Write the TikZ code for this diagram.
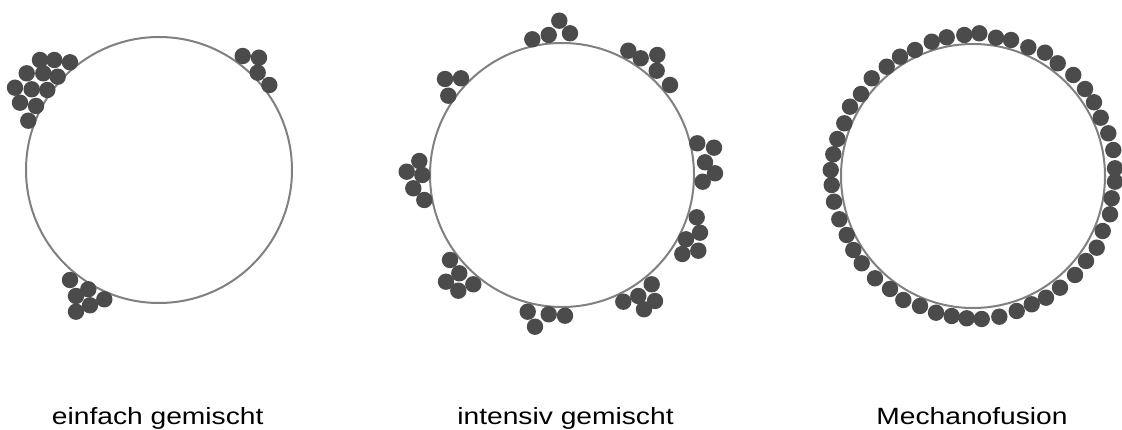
\documentclass[tikz,border=0pt]{standalone}
\usepackage{fontspec}
\newfontfamily\labfont{Liberation Sans}[FakeStretch=1.2]
\definecolor{ringgray}{HTML}{808080}
\definecolor{partgray}{HTML}{4B4B4B}
\begin{document}
\begin{tikzpicture}[x=1pt,y=-1pt,
  ring/.style={draw=ringgray,line width=2pt},
  part/.style={fill=partgray},
  lab/.style={anchor=base,inner sep=0pt,font=\labfont\fontsize{23.5}{26}\selectfont}]
\useasboundingbox (0,0) rectangle (1122,430);
% --- einfach gemischt
\draw[ring] (159,170) circle (133);
\foreach \x/\y in {40/60,54.3/60,70/62.3,26.7/73.3,43.3/73.3,57.7/76.7,15/87.7,31.7/89.3,47.3/90,20/102.7,36/106,28.3/120.7,
  242.7/56,259/57.7,257.7/72.7,269.3/85,
  70/280,88.3/289.3,76/296,104.3/299.3,90/305.3,76/311.7}
  \fill[part] (\x,\y) circle (8.2);
% --- intensiv gemischt
\draw[ring] (562,175) circle (132);
\foreach \x/\y in {559.3/20.7,532.3/39.3,548.7/35,570/33.3,
  628.3/50.7,640.7/58.3,657.3/55,656.7/70.7,670/85,
  445/79,461/78.3,448.3/95.7,
  697.3/143.3,714/147.7,705/162.3,715/173.3,702.7/181.7,
  419.3/161,406.7/171.7,422.3/175,413.3/188.3,424.3/200,
  696.7/217.3,700/232.7,686/239.3,698.3/250.7,682.3/254,
  450/260,459.3/273.3,446/281.7,473.3/284.3,458.3/290.7,
  527.7/311.7,548.7/314.3,565/315.7,535/326.7,
  651.7/284.3,638.3/296,623.3/301.7,655/301,644/309.3}
  \fill[part] (\x,\y) circle (8.2);
% --- Mechanofusion
\draw[ring] (973,176) circle (132);
\foreach \x/\y in {964.3/35,979.3/33.3,996/37.7,1011/40,1028.3/47.3,1045/52.7,1057.7/63.3,1073.3/75,
  1085/89,1094/102.3,1100.7/117.7,1108.3/133.3,1113.3/150,1115/168.3,1115/181.7,1111.7/198.3,
  1110/214.3,1102.7/231,1096.7/247.7,1086/261,1075/275,1060/287.7,1046/297.7,1031.7/304.3,
  1016.7/311,999.3/316.7,981.7/319,966.7/318.3,951.7/316,936/312.7,920/306,903.3/300,
  890/289,875/278.3,861.7/263.3,853.3/250,846.7/235,839.3/219.3,834/201.7,831.7/185,
  830.7/170,833.3/154.3,837.3/139,844.3/123.3,850/106.7,861/94,871.7/78.3,886.7/66.7,
  900/56.7,915/50,931.7/41.7,946.7/37.3}
  \fill[part] (\x,\y) circle (8.2);
% --- labels
\node[lab] (l1) at (157.7,424.3) {einfach gemischt};
\node[lab] (l2) at (565.5,424.3) {intensiv gemischt};
\node[lab] (l3) at (972,424.3) {Mechanofusion};
\end{tikzpicture}
\end{document}
